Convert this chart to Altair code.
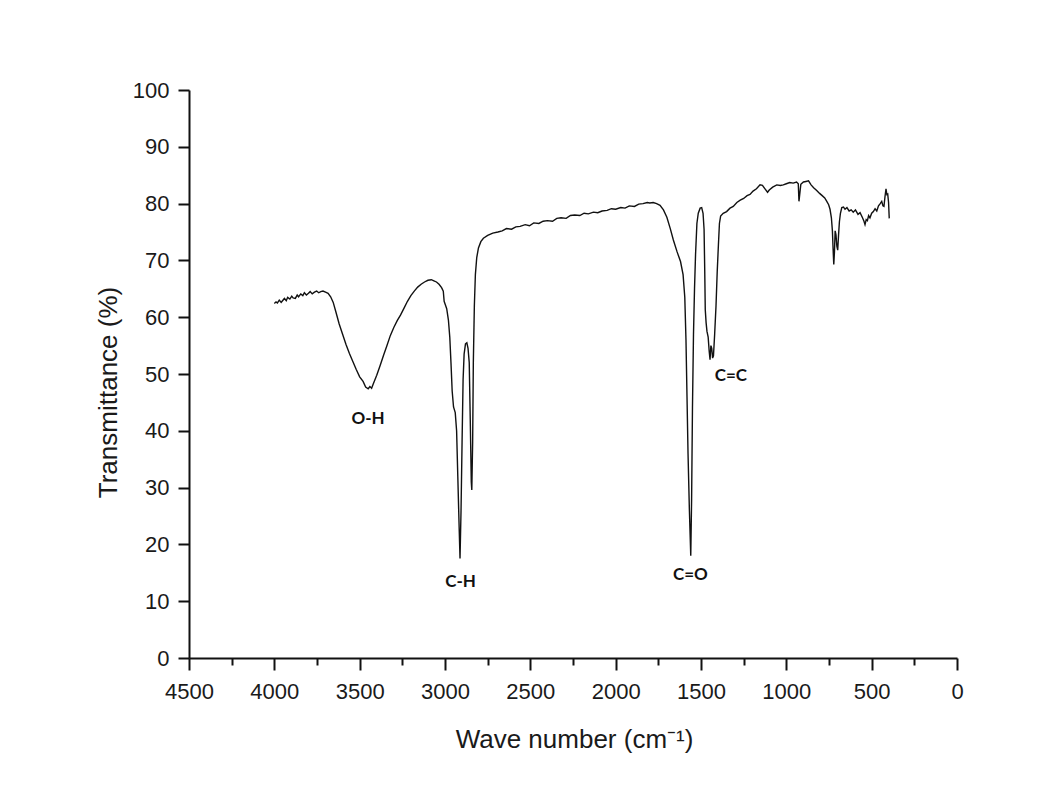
import altair as alt
import pandas as pd

# FTIR spectrum: wavenumber (cm^-1) and transmittance (%)
wavenumber = [
    4000, 3990, 3982, 3971, 3960, 3952, 3941, 3930, 3922, 3909, 3898, 3890, 3877, 3866,
    3858, 3845, 3833, 3824, 3812, 3800, 3790, 3778, 3765, 3752, 3740, 3728, 3715, 3700,
    3685, 3670, 3655, 3640, 3620, 3600, 3580,
    3560, 3540, 3520, 3500, 3480, 3465, 3450, 3440, 3430, 3420, 3400, 3380, 3360, 3340,
    3320, 3300, 3280, 3260, 3240, 3220, 3200, 3180, 3160, 3140, 3120, 3100, 3080, 3065,
    3050, 3035, 3020, 3010,
    3005, 2998, 2990, 2980, 2972, 2965, 2958, 2950, 2940, 2932, 2925, 2918, 2912, 2906,
    2900, 2894, 2888, 2880, 2872, 2865, 2858, 2852, 2846, 2843, 2838, 2834, 2828, 2822,
    2814, 2804, 2790, 2775, 2750, 2720, 2690,
    2665, 2640, 2610, 2585, 2560, 2530, 2505, 2480, 2450, 2425, 2400, 2370, 2345, 2320,
    2290, 2265, 2240, 2210, 2185, 2160, 2130, 2105, 2080, 2050, 2025, 2000, 1970, 1945,
    1920, 1890, 1865, 1840, 1815, 1800, 1780, 1760, 1740, 1720, 1700, 1680,
    1662, 1640, 1620, 1605, 1595, 1588, 1582, 1576, 1568, 1560, 1555, 1550, 1544, 1538,
    1532, 1524, 1516, 1505, 1496, 1488, 1482, 1478, 1475, 1470, 1465, 1458, 1452, 1447,
    1442, 1437, 1432, 1427, 1420, 1412, 1405, 1398, 1392, 1385, 1370, 1350, 1330, 1311,
    1290, 1270, 1250, 1230, 1213, 1195, 1175, 1154, 1140, 1125, 1110, 1100, 1080, 1056,
    1035, 1018, 1000, 980, 960, 940, 930, 926, 922, 915, 900, 885, 870, 855,
    840, 822, 805, 790, 775, 763, 752, 744, 736, 730, 726, 722, 718, 714,
    709, 704, 699, 694, 689, 683, 675, 665, 656, 645, 632, 620, 608, 595,
    580, 568, 555, 545, 539, 532, 525, 518, 510, 500, 490, 480, 470, 460,
    450, 441, 434, 428, 422, 416, 411, 406, 401, 397,
]
transmittance = [
    62.4, 62.7, 62.5, 63.0, 62.6, 62.9, 63.3, 62.9, 63.5, 63.2, 63.7, 63.4, 63.3, 63.9,
    63.6, 64.1, 63.8, 64.3, 63.9, 64.2, 64.5, 64.1, 64.4, 64.6, 64.3, 64.5, 64.6, 64.4,
    64.2, 63.6, 62.6, 61.0, 58.8, 57.0, 55.2,
    53.6, 52.2, 50.8, 49.5, 48.7, 47.7, 47.4, 47.8, 47.5, 48.3, 49.8, 51.5, 53.3, 55.0,
    56.8, 58.2, 59.4, 60.4, 61.6, 62.8, 63.8, 64.6, 65.3, 65.8, 66.2, 66.5, 66.6, 66.4,
    66.2, 65.8, 65.2, 64.6,
    62.8, 62.2, 61.5, 59.5, 56.5, 52.0, 47.0, 44.2, 43.2, 40.0, 32.0, 24.0, 17.5, 26.0,
    38.0, 49.0, 53.5, 55.3, 55.5, 54.5, 52.0, 42.0, 31.0, 29.6, 38.0, 52.0, 62.0, 67.5,
    70.5, 72.2, 73.3, 73.9, 74.4, 74.8, 75.0,
    75.2, 75.6, 75.5, 75.9, 76.0, 76.3, 76.1, 76.6, 76.5, 76.9, 77.0, 76.9, 77.4, 77.5,
    77.4, 77.9, 78.0, 77.9, 78.3, 78.2, 78.5, 78.4, 78.7, 78.8, 79.1, 79.0, 79.3, 79.2,
    79.6, 79.5, 79.9, 80.0, 80.2, 80.1, 80.2, 80.0, 79.7, 78.9, 77.6, 75.6,
    73.6, 71.5, 69.8, 67.5, 63.5, 56.0, 46.0, 36.0, 26.0, 18.0, 28.0, 44.0, 57.0, 65.0,
    71.0, 76.5, 78.3, 79.2, 79.3, 78.3, 75.5, 68.0, 61.3, 59.0, 57.5, 56.5, 54.0, 52.5,
    55.0, 54.5, 52.8, 53.2, 57.0, 62.0, 68.0, 72.7, 76.5, 77.8, 78.3, 78.6, 79.2, 79.5,
    80.2, 80.6, 80.9, 81.4, 81.6, 82.2, 82.6, 83.3, 83.2, 82.6, 82.0, 82.4, 82.9, 83.3,
    83.2, 83.3, 83.5, 83.7, 83.6, 83.8, 83.5, 80.4, 81.5, 83.4, 83.8, 83.9, 84.0, 83.3,
    82.8, 82.3, 81.8, 81.4, 81.0, 80.4, 79.8, 79.0, 77.5, 75.2, 72.0, 69.3, 71.5, 75.2,
    74.5, 72.5, 71.8, 74.5, 76.8, 78.3, 79.3, 79.4, 79.0, 79.3, 78.7, 78.9, 78.5, 78.9,
    78.1, 78.4, 77.6, 76.9, 76.3, 77.2, 77.0, 77.9, 77.5, 78.3, 78.6, 79.1, 78.7, 79.6,
    80.0, 80.4, 79.6, 79.5, 81.2, 82.6, 81.6, 81.7, 80.2, 77.4,
]

# Band assignments placed beside their absorption minima
band_label = ["O-H", "C-H", "C=O", "C=C"]
band_x = [3451, 2909, 1562, 1325]
band_y = [42.1, 13.4, 14.7, 49.6]

spectrum = pd.DataFrame({"wn": wavenumber, "t": transmittance})
bands = pd.DataFrame({"label": band_label, "x": band_x, "y": band_y})

x_scale = alt.Scale(domain=[0, 4500], reverse=True, nice=False)
y_scale = alt.Scale(domain=[0, 100], nice=False)

x_axis = alt.Axis(
    title="Wave number (cm\u207b\u00b9)",
    values=list(range(0, 4501, 250)),
    format="d",
    labelExpr="datum.value % 500 === 0 ? datum.label : ''",
    tickSize={"condition": {"test": "datum.value % 500 === 0", "value": 12}, "value": 7},
    labelPadding=11,
    labelFlush=False,
    labelOverlap=False,
    titleX=385,
    titleY=68,
    titleBaseline="top",
    titleAlign="center",
)
y_axis = alt.Axis(
    title="Transmittance (%)",
    values=list(range(0, 101, 5)),
    format="d",
    labelExpr="datum.value % 10 === 0 ? datum.label : ''",
    tickSize={"condition": {"test": "datum.value % 10 === 0", "value": 11}, "value": 5},
    labelPadding=9,
    labelOverlap=False,
    titleX=-73,
    titleY=302,
    titleAngle=-90,
    titleBaseline="alphabetic",
    titleAlign="center",
)

line = alt.Chart(spectrum).mark_line(color="#111111", strokeWidth=1.4).encode(
    x=alt.X("wn:Q", scale=x_scale, axis=x_axis),
    y=alt.Y("t:Q", scale=y_scale, axis=y_axis),
    order=alt.Order("wn:Q", sort="descending"),
)

labels = alt.Chart(bands).mark_text(
    font="Lato", fontWeight="bold", fontSize=17, color="#111111",
    align="center", baseline="middle",
).encode(
    x=alt.X("x:Q", scale=x_scale),
    y=alt.Y("y:Q", scale=y_scale),
    text="label:N",
)

chart = (
    alt.layer(line, labels)
    .properties(
        width=768,
        height=568,
        autosize=alt.AutoSizeParams(type="none"),
        padding={"left": 189, "top": 90, "right": 97, "bottom": 141},
        background="white",
    )
    .configure_view(stroke=None)
    .configure_axis(
        domainColor="#111111",
        domainWidth=2,
        tickColor="#111111",
        tickWidth=2,
        grid=False,
        labelFont="Liberation Sans",
        labelFontSize=22,
        labelColor="#1a1a1a",
        titleFont="Liberation Sans",
        titleFontSize=26,
        titleFontWeight="normal",
        titleColor="#1a1a1a",
    )
)

chart.save("out.html", embed_options={"renderer": "svg", "actions": False})
